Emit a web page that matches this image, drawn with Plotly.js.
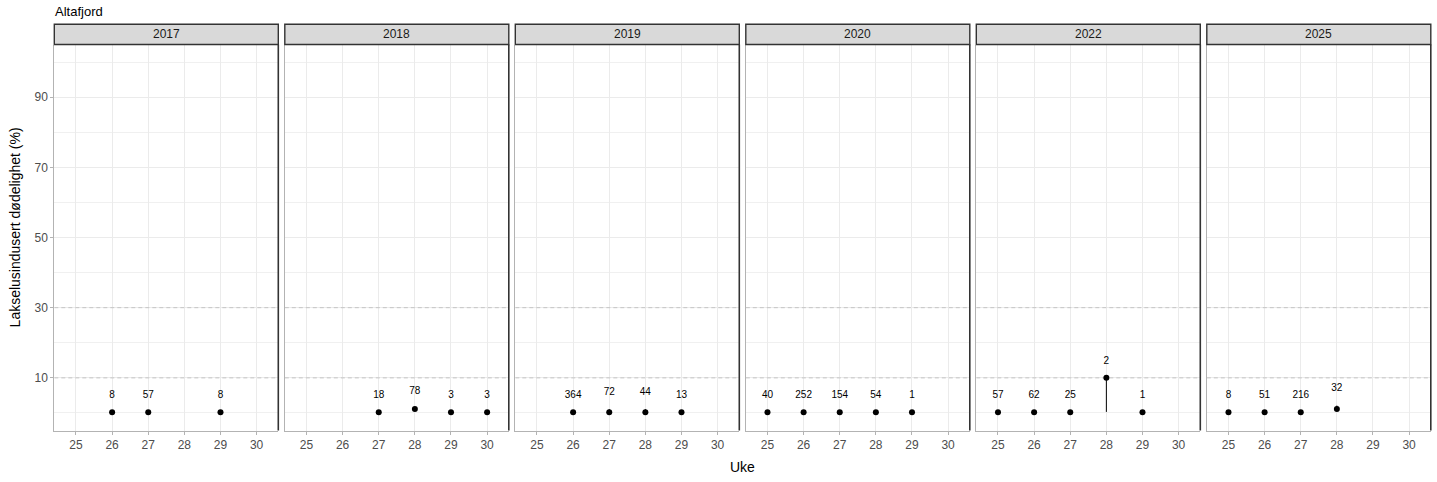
<!DOCTYPE html>
<html>
<head>
<meta charset="utf-8">
<script src="https://cdn.plot.ly/plotly-3.0.1.min.js"></script>
<style>
  html, body { margin: 0; padding: 0; background: #fff; }
  #chart { width: 1437px; height: 482px; }
</style>
</head>
<body>
<div id="chart"></div>
<script>
// facets (one per year) and the weeks in each
var years = ['2017', '2018', '2019', '2020', '2022', '2025'];
var weeks = [
  [26, 27, 29],
  [27, 28, 29, 30],
  [26, 27, 28, 29],
  [25, 26, 27, 28, 29],
  [25, 26, 27, 28, 29],
  [25, 26, 27, 28]
];
// lice induced mortality (%) with lower / upper bounds
var mortality = [
  [0.2, 0.2, 0.2],
  [0.2, 1.1, 0.2, 0.2],
  [0.2, 0.2, 0.2, 0.2],
  [0.2, 0.2, 0.2, 0.2, 0.2],
  [0.2, 0.2, 0.2, 10, 0.2],
  [0.2, 0.2, 0.2, 1.1]
];
var lower = [
  [0.2, 0.2, 0.2],
  [0.2, 1.1, 0.2, 0.2],
  [0.2, 0.2, 0.2, 0.2],
  [0.2, 0.2, 0.2, 0.2, 0.2],
  [0.2, 0.2, 0.2, 0.3, 0.2],
  [0.2, 0.2, 0.2, 1.1]
];
var upper = [
  [0.2, 0.2, 0.2],
  [0.2, 1.3, 0.2, 0.2],
  [0.2, 1.1, 1.1, 0.2],
  [0.2, 0.2, 0.2, 0.2, 0.2],
  [0.2, 0.2, 0.2, 10, 0.2],
  [0.2, 0.2, 0.2, 2.1]
];
// number of fish sampled, printed above each point
var counts = [
  [8, 57, 8],
  [18, 78, 3, 3],
  [364, 72, 44, 13],
  [40, 252, 154, 54, 1],
  [57, 62, 25, 2, 1],
  [8, 51, 216, 32]
];
var weekTicks = [25, 26, 27, 28, 29, 30];
var yTicks = [10, 30, 50, 70, 90];
var yMinor = [0, 20, 40, 60, 80, 100];
var thresholds = [10, 30];

var W = 1437, H = 482;
var left0 = 54.3, pitch = 230.5, panelW = 224;
var panelTop = 44.5, panelBottom = 430.5, stripTop = 24.3;
var xRange = [24.4, 30.6];
var labelLift = 4.8;
var font = 'Liberation Sans, Arial, sans-serif';

var data = [];
var layout = {
  width: W, height: H,
  margin: {l: 0, r: 0, t: 0, b: 0},
  paper_bgcolor: '#fff', plot_bgcolor: '#fff',
  showlegend: false,
  font: {family: font},
  shapes: [],
  annotations: []
};

years.forEach(function (yr, i) {
  var sx = i ? String(i + 1) : '';
  var xr = 'x' + sx, yref = 'y' + sx;
  var l = left0 + i * pitch;

  data.push({
    type: 'scatter', mode: 'markers',
    x: weeks[i], y: mortality[i],
    xaxis: xr, yaxis: yref,
    marker: {color: '#000', size: 6},
    error_y: {
      type: 'data', symmetric: false,
      array: upper[i].map(function (u, k) { return u - mortality[i][k]; }),
      arrayminus: lower[i].map(function (lo, k) { return mortality[i][k] - lo; }),
      color: '#000', thickness: 1, width: 0
    },
    hoverinfo: 'x+y'
  });
  data.push({
    type: 'scatter', mode: 'text',
    x: weeks[i], y: upper[i].map(function (u) { return u + labelLift; }),
    xaxis: xr, yaxis: yref,
    text: counts[i].map(String),
    textfont: {family: font, size: 10, color: '#000'},
    cliponaxis: false,
    hoverinfo: 'skip'
  });

  layout['xaxis' + sx] = {
    domain: [l / W, (l + panelW) / W],
    anchor: yref,
    range: xRange,
    tickmode: 'array', tickvals: weekTicks,
    showgrid: true, gridcolor: '#ebebeb', gridwidth: 1,
    zeroline: false,
    showline: true, linecolor: '#b3b3b3', linewidth: 1,
    ticks: 'outside', ticklen: 3, tickcolor: '#b3b3b3', tickwidth: 1,
    tickfont: {family: font, size: 12, color: '#4d4d4d'},
    fixedrange: true
  };
  layout['yaxis' + sx] = {
    domain: [(H - panelBottom) / H, (H - panelTop) / H],
    anchor: xr,
    range: [-5, 105],
    tickmode: 'array', tickvals: yTicks,
    showticklabels: i === 0,
    ticks: i === 0 ? 'outside' : '', ticklen: 3, tickcolor: '#b3b3b3', tickwidth: 1,
    showgrid: true, gridcolor: '#ebebeb', gridwidth: 1,
    minor: {tickmode: 'array', tickvals: yMinor, showgrid: true,
            gridcolor: '#f0f0f0', gridwidth: 0.6, ticks: ''},
    zeroline: false,
    showline: true, linecolor: '#b3b3b3', linewidth: 1,
    tickfont: {family: font, size: 12, color: '#4d4d4d'},
    fixedrange: true
  };

  thresholds.forEach(function (t) {
    layout.shapes.push({
      type: 'line', xref: xr, yref: yref,
      x0: xRange[0], x1: xRange[1], y0: t, y1: t,
      line: {color: '#c4c4c4', width: 1, dash: '4px,3px'},
      layer: 'between'
    });
  });

  // right border of panel
  layout.shapes.push({
    type: 'line', xref: 'paper', yref: 'paper',
    x0: (l + panelW) / W, x1: (l + panelW) / W,
    y0: (H - panelBottom) / H, y1: (H - panelTop) / H,
    line: {color: '#333333', width: 1.6}
  });
  // strip
  layout.shapes.push({
    type: 'rect', xref: 'paper', yref: 'paper',
    x0: l / W, x1: (l + panelW) / W,
    y0: (H - panelTop) / H, y1: (H - stripTop) / H,
    fillcolor: '#d9d9d9',
    line: {color: '#333333', width: 1.4}
  });
  layout.annotations.push({
    xref: 'paper', yref: 'paper',
    x: (l + panelW / 2) / W, y: (H - (panelTop + stripTop) / 2) / H,
    text: yr, showarrow: false,
    xanchor: 'center', yanchor: 'middle',
    font: {family: font, size: 12, color: '#1a1a1a'}
  });
});

layout.annotations.push({
  xref: 'paper', yref: 'paper', x: 53 / W, y: (H - 11.5) / H,
  text: 'Altafjord', showarrow: false, xanchor: 'left', yanchor: 'middle',
  font: {family: font, size: 13, color: '#000'}
});
layout.annotations.push({
  xref: 'paper', yref: 'paper', x: (left0 + 5 * pitch + panelW + left0) / 2 / W, y: (H - 467) / H,
  text: 'Uke', showarrow: false, xanchor: 'center', yanchor: 'middle',
  font: {family: font, size: 14, color: '#000'}
});
layout.annotations.push({
  xref: 'paper', yref: 'paper', x: 15 / W, y: (H - (stripTop + panelBottom) / 2) / H,
  text: 'Lakselusindusert dødelighet (%)', showarrow: false, textangle: -90,
  xanchor: 'center', yanchor: 'middle',
  font: {family: font, size: 14, color: '#000'}
});

Plotly.newPlot('chart', data, layout, {displayModeBar: false, responsive: false});
</script>
</body>
</html>
